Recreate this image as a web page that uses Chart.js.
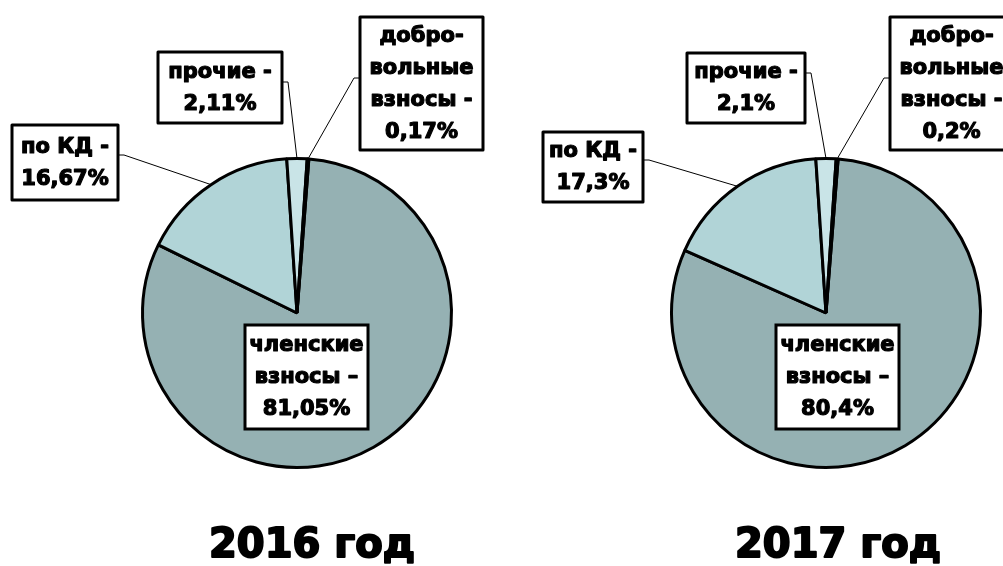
<!DOCTYPE html>
<html lang="ru">
<head>
<meta charset="utf-8">
<title>Структура поступлений</title>
<script src="https://cdn.jsdelivr.net/npm/chart.js@4.4.1/dist/chart.umd.min.js"></script>
<style>
  html, body { margin: 0; padding: 0; background: #fff; overflow: hidden; }
  #wrap { position: relative; width: 1003px; height: 566px; }
  .pie { position: absolute; top: 0; height: 566px; }
  #pie2016 { left: 0; width: 520px; }
  #pie2017 { left: 520px; width: 483px; }
</style>
</head>
<body>
<div id="wrap">
  <div class="pie" id="pie2016"><canvas id="c2016"></canvas></div>
  <div class="pie" id="pie2017"><canvas id="c2017"></canvas></div>
</div>
<script>
// данные
const categories = ['членские взносы', 'по КД', 'прочие', 'добровольные взносы'];
const labelHeads = [['членские', 'взносы –'], ['по КД -'], ['прочие -'], ['добро-', 'вольные', 'взносы -']];
const values2016 = [81.05, 16.67, 2.11, 0.17];
const values2017 = [80.4, 17.3, 2.1, 0.2];
const years = ['2016 год', '2017 год'];

const sliceColors = ['#95b1b3', '#b1d4d7', '#c9e4e7', '#7d9a9c'];
const FONT = '"DejaVu Sans", "Liberation Sans", sans-serif';

// раскладка подписей для каждой диаграммы (координаты холста)
const layout2016 = {
    padding: { left: 141, right: 67, top: 157, bottom: 97 },
    rotation: 4.4,
    title: { x: 312, y: 547 },
    boxes: [
        { x: 245, y: 325, w: 123, h: 104 },
        { x: 12, y: 125, w: 106, h: 75, lead: [118, 155], dir: 1 },
        { x: 158, y: 52, w: 124, h: 71, lead: [282, 82], dir: 1 },
        { x: 360, y: 17, w: 123, h: 133, lead: [360, 78], dir: -1 }
    ]
};
const layout2017 = {
    padding: { left: 150, right: 21, top: 157, bottom: 97 },
    rotation: 4.5,
    title: { x: 318, y: 547 },
    boxes: [
        { x: 256, y: 325, w: 123, h: 104 },
        { x: 23, y: 132, w: 100, h: 70, lead: [123, 160], dir: 1 },
        { x: 167, y: 53, w: 118, h: 70, lead: [285, 73], dir: 1 },
        { x: 370, y: 17, w: 123, h: 133, lead: [370, 78], dir: -1 }
    ]
};

function fmt(v) {
    return String(v).replace('.', ',') + '%';
}

// жирный текст с обводкой, чтобы был плотнее
function heavyText(ctx, text, x, y, w) {
    ctx.lineWidth = w;
    ctx.lineJoin = 'round';
    ctx.strokeText(text, x, y);
    ctx.fillText(text, x, y);
}

// подписи в рамках, выноски и подпись года
const calloutPlugin = {
    id: 'callouts',
    afterDraw(chart, args, opts) {
        const ctx = chart.ctx;
        const meta = chart.getDatasetMeta(0);
        const values = chart.data.datasets[0].data;
        ctx.save();

        // выноски
        ctx.strokeStyle = '#000';
        ctx.lineWidth = 1;
        opts.boxes.forEach((b, i) => {
            if (!b.lead) return;
            const arc = meta.data[i].getProps(['x', 'y', 'startAngle', 'endAngle', 'outerRadius'], true);
            const mid = (arc.startAngle + arc.endAngle) / 2;
            const px = arc.x + Math.cos(mid) * arc.outerRadius;
            const py = arc.y + Math.sin(mid) * arc.outerRadius;
            ctx.beginPath();
            ctx.moveTo(b.lead[0], b.lead[1]);
            ctx.lineTo(b.lead[0] + 6 * b.dir, b.lead[1]);
            ctx.lineTo(px, py);
            ctx.stroke();
        });

        // рамки с текстом
        ctx.font = 'bold 21px ' + FONT;
        ctx.textAlign = 'center';
        ctx.textBaseline = 'middle';
        opts.boxes.forEach((b, i) => {
            ctx.fillStyle = '#fff';
            ctx.fillRect(b.x, b.y, b.w, b.h);
            ctx.lineWidth = 3;
            ctx.strokeStyle = '#000';
            ctx.strokeRect(b.x, b.y, b.w, b.h);
            const lines = labelHeads[i].concat([fmt(values[i])]);
            const step = 32;
            const cx = b.x + b.w / 2;
            const y0 = b.y + b.h / 2 - (lines.length - 1) * step / 2 + 1;
            ctx.fillStyle = '#000';
            lines.forEach((t, k) => heavyText(ctx, t, cx, y0 + k * step, 1.2));
        });

        // год
        ctx.font = 'bold 40px ' + FONT;
        heavyText(ctx, opts.year, opts.title.x, opts.title.y, 2);
        ctx.restore();
    }
};

function renderPie(canvasId, values, layout, year) {
    const ctx = document.getElementById(canvasId).getContext('2d');
    return new Chart(ctx, {
        type: 'pie',
        data: {
            labels: categories,
            datasets: [{
                data: values,
                backgroundColor: sliceColors,
                borderColor: '#000',
                borderWidth: 3
            }]
        },
        options: {
            responsive: true,
            maintainAspectRatio: false,
            animation: false,
            events: [],
            rotation: layout.rotation,
            layout: { padding: layout.padding },
            plugins: {
                legend: { display: false },
                tooltip: { enabled: false },
                callouts: { boxes: layout.boxes, title: layout.title, year: year }
            }
        },
        plugins: [calloutPlugin]
    });
}

renderPie('c2016', values2016, layout2016, years[0]);
renderPie('c2017', values2017, layout2017, years[1]);
</script>
</body>
</html>
